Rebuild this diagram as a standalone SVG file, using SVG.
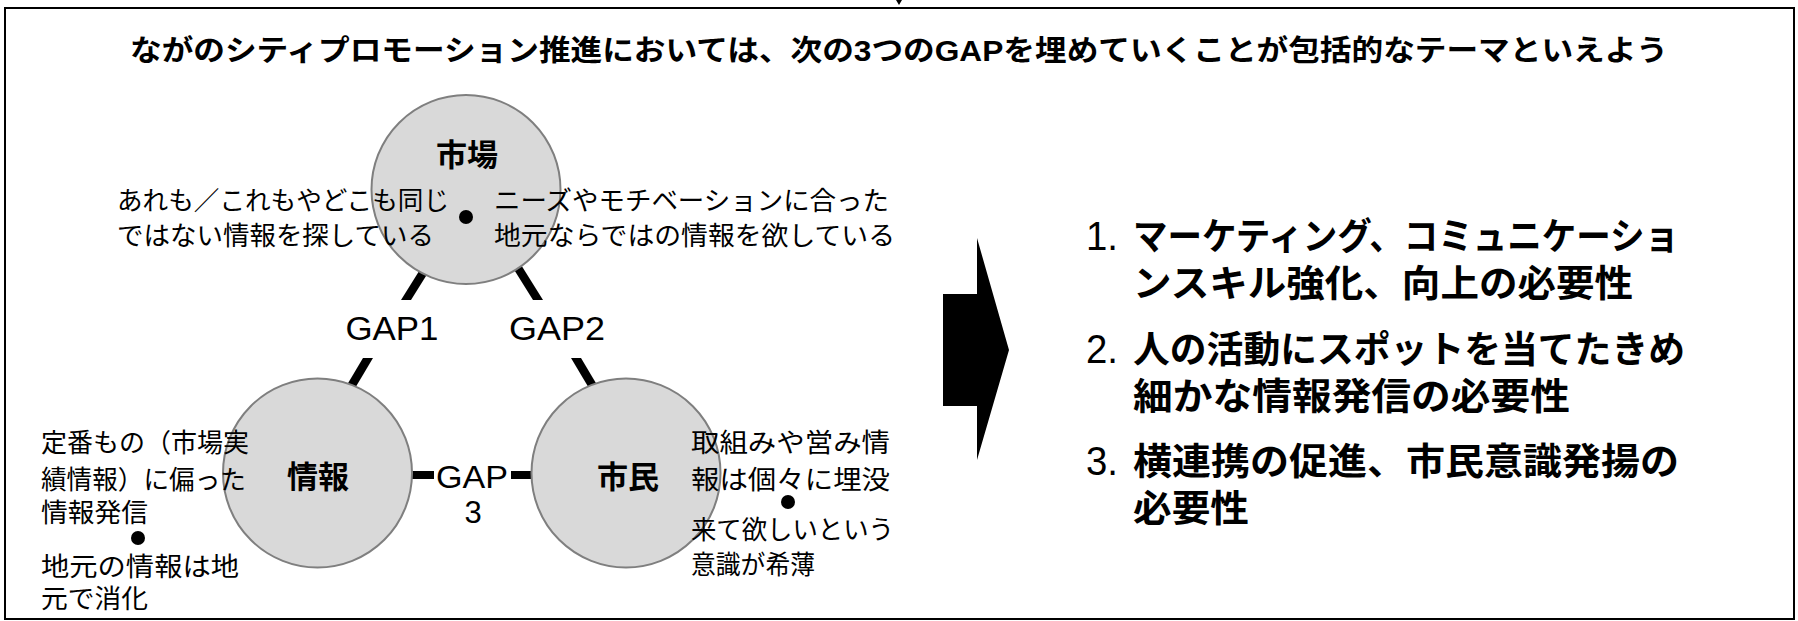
<svg xmlns="http://www.w3.org/2000/svg" width="1798" height="621" viewBox="0 0 1798 621">
<style>
  .jp { font-family: "Liberation Sans", "Noto Sans CJK JP", sans-serif; fill: #000; }
  .b { font-weight: bold; }
  .lat { font-family: "Liberation Sans", "Noto Sans CJK JP", sans-serif; fill: #000; }
  .num { font-family: "Liberation Sans", "Noto Sans CJK JP", sans-serif; font-weight: normal; font-size: 40px; }
  .node { fill: #d9d9d9; stroke: #7f7f7f; stroke-width: 2; }
  .bar { fill: #000; }
  .hl { stroke: #000; stroke-width: 8; }
</style>
<rect x="0" y="0" width="1798" height="621" fill="#fff"/>
<polygon points="896,0 902,0 899,5" fill="#000"/>
<rect x="5" y="8" width="1789" height="611" fill="none" stroke="#000" stroke-width="2"/>

<g id="title">
  <text class="jp b" x="130" y="61" font-size="29" textLength="1538" lengthAdjust="spacingAndGlyphs">ながのシティプロモーション推進においては、次の3つのGAPを埋めていくことが包括的なテーマといえよう</text>
</g>

<g id="connectors">
  <polygon class="bar" points="426,260 436,260 411,300 401,300"/>
  <polygon class="bar" points="363,358 373,358 348,400 338,400"/>
  <polygon class="bar" points="508,260 518,260 543,300 533,300"/>
  <polygon class="bar" points="571,358 581,358 606,400 596,400"/>
  <line class="hl" x1="405" y1="475" x2="434" y2="475"/>
  <line class="hl" x1="511" y1="475" x2="540" y2="475"/>
  <text class="lat" x="392" y="340" font-size="34" text-anchor="middle" textLength="93" lengthAdjust="spacingAndGlyphs">GAP1</text>
  <text class="lat" x="557" y="340" font-size="34" text-anchor="middle" textLength="96" lengthAdjust="spacingAndGlyphs">GAP2</text>
  <text class="lat" font-size="31" text-anchor="middle"><tspan x="472" y="488" textLength="72" lengthAdjust="spacingAndGlyphs">GAP</tspan><tspan x="473" y="523">3</tspan></text>
</g>

<g id="node-market">
  <circle class="node" cx="466" cy="189.5" r="94.5"/>
  <text class="jp b" x="467" y="166" font-size="31" text-anchor="middle">市場</text>
  <circle cx="466" cy="217" r="7" fill="#000"/>
  <text class="jp" font-size="26"><tspan x="117" y="210" textLength="332" lengthAdjust="spacingAndGlyphs">あれも／これもやどこも同じ</tspan><tspan x="117" y="245" textLength="317" lengthAdjust="spacingAndGlyphs">ではない情報を探している</tspan></text>
  <text class="jp" font-size="26"><tspan x="494" y="210" textLength="395" lengthAdjust="spacingAndGlyphs">ニーズやモチベーションに合った</tspan><tspan x="494" y="245" textLength="401" lengthAdjust="spacingAndGlyphs">地元ならではの情報を欲している</tspan></text>
</g>

<g id="node-info">
  <circle class="node" cx="317.5" cy="473" r="94.5"/>
  <text class="jp b" x="318" y="488" font-size="31" text-anchor="middle">情報</text>
  <text class="jp" font-size="26"><tspan x="41" y="452" textLength="208" lengthAdjust="spacingAndGlyphs">定番もの（市場実</tspan><tspan x="41" y="489" textLength="205" lengthAdjust="spacingAndGlyphs">績情報）に偏った</tspan><tspan x="41" y="522" textLength="107" lengthAdjust="spacingAndGlyphs">情報発信</tspan></text>
  <circle cx="138" cy="538" r="7" fill="#000"/>
  <text class="jp" font-size="26"><tspan x="41" y="576" textLength="198" lengthAdjust="spacingAndGlyphs">地元の情報は地</tspan><tspan x="41" y="608" textLength="107" lengthAdjust="spacingAndGlyphs">元で消化</tspan></text>
</g>

<g id="node-citizens">
  <circle class="node" cx="626" cy="473" r="94.5"/>
  <text class="jp b" x="628" y="488" font-size="31" text-anchor="middle">市民</text>
  <text class="jp" font-size="26"><tspan x="691" y="452" textLength="199" lengthAdjust="spacingAndGlyphs">取組みや営み情</tspan><tspan x="691" y="489" textLength="199" lengthAdjust="spacingAndGlyphs">報は個々に埋没</tspan></text>
  <circle cx="788" cy="502" r="7" fill="#000"/>
  <text class="jp" font-size="26"><tspan x="691" y="539" textLength="203" lengthAdjust="spacingAndGlyphs">来て欲しいという</tspan><tspan x="691" y="574" textLength="124" lengthAdjust="spacingAndGlyphs">意識が希薄</tspan></text>
</g>

<g id="arrow">
  <polygon points="943,294 977,294 977,238 1009,350 977,460 977,406 943,406" fill="#000"/>
</g>

<g id="list">
  <text class="jp b" font-size="37"><tspan class="num" x="1086" y="250" textLength="32" lengthAdjust="spacingAndGlyphs">1.</tspan><tspan x="1133" y="250" textLength="546" lengthAdjust="spacingAndGlyphs">マーケティング、コミュニケーショ</tspan><tspan x="1133" y="297" textLength="500" lengthAdjust="spacingAndGlyphs">ンスキル強化、向上の必要性</tspan></text>
  <text class="jp b" font-size="37"><tspan class="num" x="1086" y="363" textLength="32" lengthAdjust="spacingAndGlyphs">2.</tspan><tspan x="1133" y="363" textLength="552" lengthAdjust="spacingAndGlyphs">人の活動にスポットを当てたきめ</tspan><tspan x="1133" y="410" textLength="437" lengthAdjust="spacingAndGlyphs">細かな情報発信の必要性</tspan></text>
  <text class="jp b" font-size="37"><tspan class="num" x="1086" y="475" textLength="32" lengthAdjust="spacingAndGlyphs">3.</tspan><tspan x="1133" y="475" textLength="546" lengthAdjust="spacingAndGlyphs">横連携の促進、市民意識発揚の</tspan><tspan x="1133" y="522" textLength="116" lengthAdjust="spacingAndGlyphs">必要性</tspan></text>
</g>
</svg>
